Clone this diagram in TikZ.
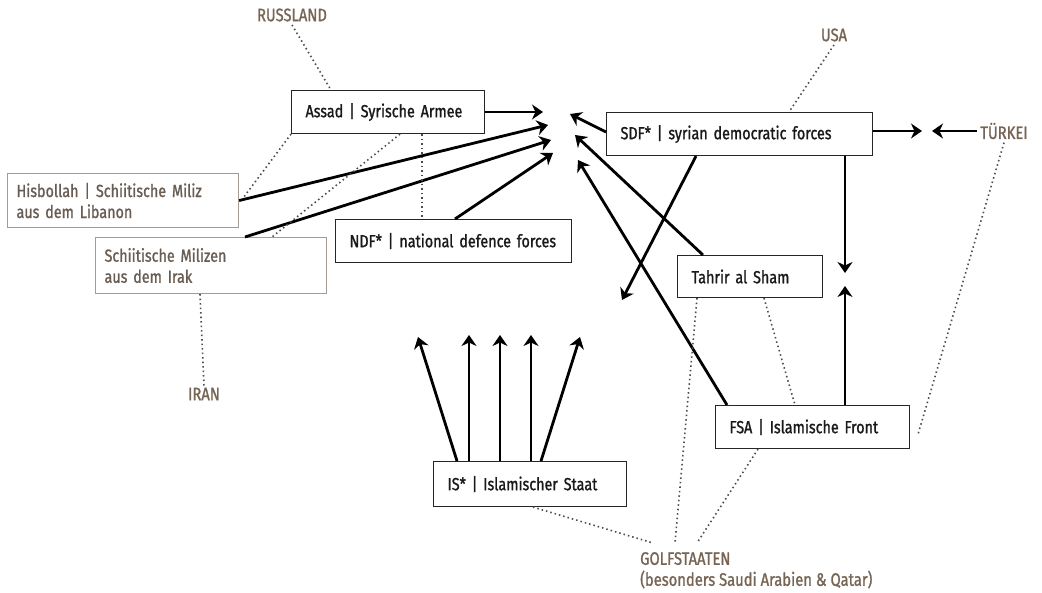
\documentclass[tikz,border=0pt]{standalone}
\usepackage{fontspec}
\setmainfont{Fira Sans}[FakeStretch=0.82,FakeBold=1.2]
\usepackage{tikz}
\usetikzlibrary{arrows.meta}
\usepackage{xcolor}
\definecolor{labelbrown}{RGB}{118,100,84}
\definecolor{boxbrown}{RGB}{165,155,145}
\definecolor{textbrown}{RGB}{105,93,83}

\begin{document}
\begin{tikzpicture}[x=1pt,y=-1pt,>={Stealth[length=11pt,width=15pt,inset=3.5pt]}]
\tikzset{
    party/.style={%
        draw=black!85, line width=1.1pt,
        rectangle, anchor=north west,
        inner xsep=14pt, inner ysep=0pt,
        align=left, text=black!90,
        font=\fontsize{17.5}{21}\selectfont
        },
    ally/.style={%
        party, draw=boxbrown, text=textbrown,
        inner xsep=9pt
        },
    state/.style={%
        text=labelbrown,
        font=\fontsize{18}{21}\selectfont
        },
    link/.style={line width=1.6pt, dash pattern=on 1.5pt off 3pt, black!70},
    push/.style={->, line width=2.8pt},
}
\useasboundingbox (0,0) rectangle (1042,593);
%%%PARTIES
\node[party, text width=165pt, minimum height=43pt] (assad) at (291,90) {Assad | Syrische Armee};
\node[ally, text width=213pt, minimum height=54pt] (hisb) at (7,173) {Hisbollah | Schiitische Miliz\\aus dem Libanon};
\node[ally, text width=213pt, minimum height=56pt] (schiit) at (95,237) {Schiitische Milizen\\aus dem Irak};
\node[party, text width=208pt, minimum height=43pt] (ndf) at (335,219) {NDF* | national defence forces};
\node[party, text width=238pt, minimum height=43pt] (sdf) at (606,112) {SDF* | syrian democratic forces};
\node[party, text width=117pt, minimum height=42pt] (tahrir) at (677,255) {Tahrir al Sham};
\node[party, text width=166pt, minimum height=43pt] (fsa) at (715,405) {FSA | Islamische Front};
\node[party, text width=165pt, minimum height=45pt] (is) at (433,461) {IS* | Islamischer Staat};
%%%STATES
\node[state] (russland) at (292,15) {RUSSLAND};
\node[state] (usa) at (834,35) {USA};
\node[state] (tuerkei) at (1004,131) {TÜRKEI};
\node[state] (iran) at (204,394) {IRAN};
\node[state, anchor=north west, align=left, inner sep=0pt] (golf) at (640,552) {GOLFSTAATEN\\(besonders Saudi Arabien \& Qatar)};
%%%FREE ENDS
\coordinate (a1) at (543,112);
\coordinate (a2) at (548,125);
\coordinate (a3) at (551,140);
\coordinate (a4) at (553,153);
\coordinate (b1) at (570,114);
\coordinate (b2) at (575,135);
\coordinate (b3) at (578,160);
\coordinate (b4) at (622,300);
\coordinate (d1) at (845,273);
\coordinate (d2) at (845,286);
\coordinate (e1) at (922,131);
\coordinate (e2) at (932,131);
\coordinate (i1) at (418,337);
\coordinate (i2) at (469,335);
\coordinate (i3) at (500,335);
\coordinate (i4) at (531,335);
\coordinate (i5) at (580,337);
%%%ARROWS
\draw[push] (assad.east |- a1) -- (a1);
\draw[push] (hisb.east) -- (a2);
\draw[push] ([xshift=150pt]schiit.north west) -- (a3);
\draw[push] ([xshift=120pt]ndf.north west) -- (a4);
\draw[push] ([yshift=2pt]sdf.west) -- (b1);
\draw[push] ([xshift=26pt]tahrir.north west) -- (b2);
\draw[push] ([xshift=12pt]fsa.north west) -- (b3);
\draw[push] ([xshift=90pt]sdf.south west) -- (b4);
\draw[push] ([xshift=239pt]sdf.south west) -- (d1);
\draw[push] ([xshift=130pt]fsa.north west) -- (d2);
\draw[push] (sdf.east |- e1) -- (e1);
\draw[push] (tuerkei.west) -- (e2);
\draw[push] ([xshift=24pt]is.north west) -- (i1);
\draw[push] ([xshift=36pt]is.north west) -- (i2);
\draw[push] ([xshift=67pt]is.north west) -- (i3);
\draw[push] ([xshift=98pt]is.north west) -- (i4);
\draw[push] ([xshift=108pt]is.north west) -- (i5);
%%%SUPPORT
\draw[link] (russland.south) -- ([xshift=40pt]assad.north west);
\draw[link] (assad.south west) -- ([xshift=4pt,yshift=-25pt]hisb.north east);
\draw[link] ([xshift=109pt]assad.south west) -- ([xshift=177pt]schiit.north west);
\draw[link] ([xshift=131pt]assad.south west) -- ([xshift=87pt]ndf.north west);
\draw[link] ([xshift=105pt]schiit.south west) -- ([yshift=-2pt]iran.north);
\draw[link] (usa.south) -- ([xshift=183pt]sdf.north west);
\draw[link] (tuerkei.south) -- ([xshift=8pt,yshift=-29pt]fsa.north east);
\draw[link] ([xshift=87pt]tahrir.south west) -- ([xshift=80pt]fsa.north west);
\draw[link] ([xshift=20pt]tahrir.south west) -- ([xshift=35pt,yshift=9pt]golf.north west);
\draw[link] ([xshift=43pt]fsa.south west) -- ([xshift=57pt,yshift=9pt]golf.north west);
\draw[link] ([xshift=100pt]is.south west) -- ([xshift=13pt,yshift=9pt]golf.north west);
\end{tikzpicture}
\end{document}
